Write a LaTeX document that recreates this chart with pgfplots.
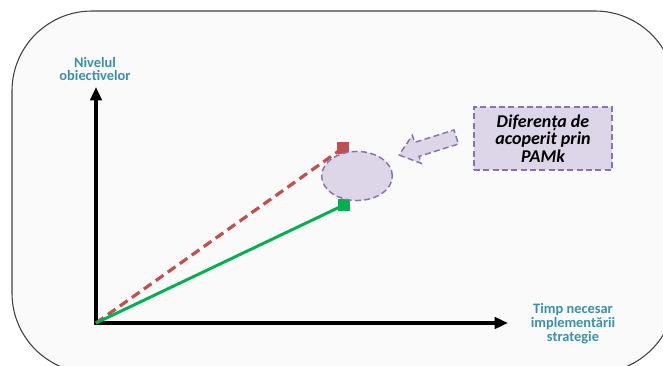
\documentclass[border=0pt]{standalone}
\usepackage{pgfplots}
\pgfplotsset{compat=1.18}
\usepackage{fontspec}
\setmainfont{Carlito}
\usetikzlibrary{arrows.meta}

\definecolor{framebg}{HTML}{FAFAFA}
\definecolor{labelteal}{RGB}{60,145,168}
\definecolor{planred}{HTML}{C0504D}
\definecolor{realgreen}{HTML}{00B050}
\definecolor{lavfill}{HTML}{DDD6E8}
\definecolor{lavedge}{HTML}{8A72B0}

\begin{document}
\begin{tikzpicture}
\useasboundingbox (0,0) rectangle (497.25pt,273.75pt);
\clip (0,0) rectangle (497.25pt,273.75pt);
\fill[white] (0,0) rectangle (497.25pt,273.75pt);
\begin{axis}[
  at={(0,0)}, anchor=south west,
  scale only axis, width=497.25pt, height=273.75pt,
  xmin=-96, xmax=567, ymin=-42, ymax=323,
  hide axis, clip=false,
]
% rounded panel
\draw[draw=black!75, line width=0.8pt, fill=framebg, rounded corners=60pt]
  (axis cs:-84,-50) rectangle (axis cs:579,312);

% axes with arrows
\draw[line width=3.3pt, -{Triangle[length=10pt,width=8.5pt]}]
  (axis cs:0,-1.6) -- (axis cs:0,236);
\draw[line width=3.3pt, -{Triangle[length=10pt,width=8.5pt]}]
  (axis cs:-2.2,0) -- (axis cs:412,0);

% planned and achieved trajectories
\addplot[planred, line width=2.4pt, dash pattern=on 7pt off 4pt,
  mark=square*, mark indices={2},
  mark options={solid, fill=planred, draw=planred, line width=0.4pt}, mark size=4.3pt]
  coordinates {(0,0) (247,175)};
\addplot[realgreen, line width=2.2pt,
  mark=square*, mark indices={2},
  mark options={solid, fill=realgreen, draw=realgreen, line width=0.4pt}, mark size=4.3pt]
  coordinates {(0,0) (248,118)};

% anchor points for the annotations
\coordinate (gap) at (axis cs:261,147);
\coordinate (tip) at (axis cs:303,168);
\coordinate (boxc) at (axis cs:447,184.5);
\coordinate (ylab) at (axis cs:-1,254);
\coordinate (xlab) at (axis cs:477,-1);
\end{axis}

\tikzset{lavstyle/.style={draw=lavedge, line width=1.1pt, dash pattern=on 4.5pt off 2.5pt, fill=lavfill}}

% gap ellipse
\draw[lavstyle] (gap) ellipse [x radius=26.5pt, y radius=18.4pt];

% block arrow pointing to the gap
\begin{scope}[shift={(tip)}, rotate=197.5]
\draw[lavstyle, line join=miter]
  (0,0) -- (-14pt,11pt) -- (-14pt,5.5pt) -- (-45pt,5.5pt) -- (-45pt,-5.5pt)
  -- (-14pt,-5.5pt) -- (-14pt,-11pt) -- cycle;
\end{scope}

% explanatory box
\node[lavstyle, text=black,
  minimum width=103.5pt, minimum height=47.25pt, align=center,
  font=\fontsize{13.5pt}{13.2pt}\selectfont\bfseries\itshape, inner sep=0pt]
  at (boxc) {Diferența de\\acoperit prin\\PAMk};

% axis labels
\node[labelteal, align=center, font=\fontsize{10.8pt}{10.4pt}\selectfont\bfseries]
  at (ylab) {Nivelul\\obiectivelor};
\node[labelteal, align=center, font=\fontsize{10.8pt}{10.4pt}\selectfont\bfseries]
  at (xlab) {Timp necesar\\implementării\\strategie};
\end{tikzpicture}
\end{document}
